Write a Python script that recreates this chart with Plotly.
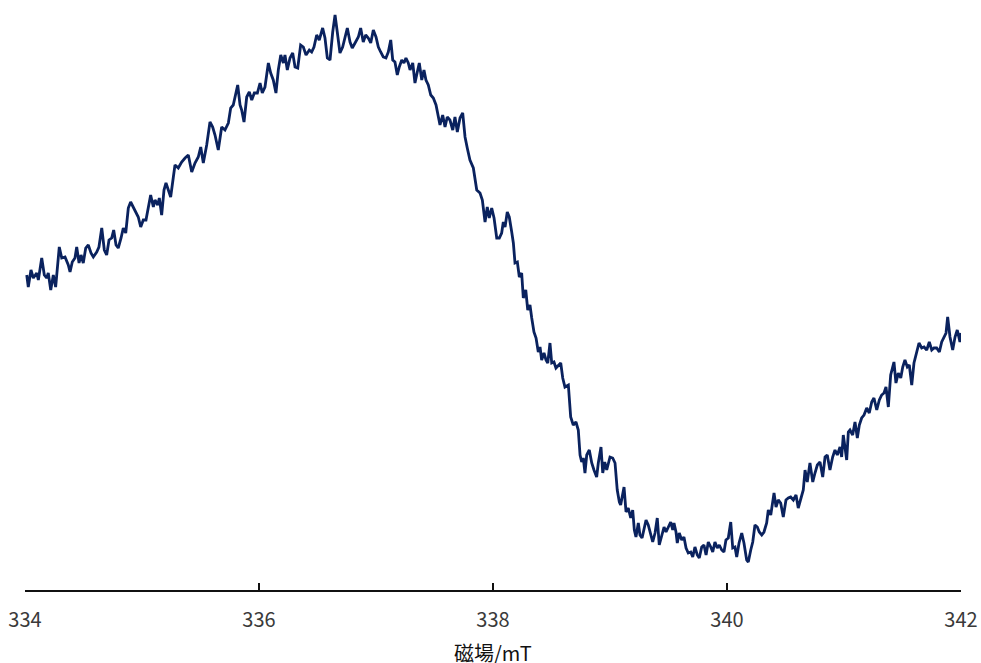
import plotly.graph_objects as go

# Magnetic field (mT)
field_mT = [
    334.015, 334.028, 334.051, 334.071, 334.100, 334.114, 334.143, 334.165, 334.185, 334.199,
    334.220, 334.242, 334.262, 334.293, 334.314, 334.342, 334.370, 334.385, 334.404, 334.427,
    334.442, 334.462, 334.479, 334.498, 334.519, 334.541, 334.564, 334.584, 334.613, 334.632,
    334.656, 334.678, 334.698, 334.718, 334.741, 334.758, 334.778, 334.797, 334.821, 334.840,
    334.861, 334.883, 334.903, 334.926, 334.946, 334.968, 334.989, 335.011, 335.034, 335.054,
    335.074, 335.097, 335.111, 335.134, 335.148, 335.168, 335.188, 335.205, 335.225, 335.245,
    335.268, 335.282, 335.310, 335.339, 335.368, 335.396, 335.425, 335.453, 335.481, 335.502,
    335.524, 335.553, 335.581, 335.604, 335.624, 335.652, 335.681, 335.709, 335.738, 335.758,
    335.780, 335.801, 335.818, 335.838, 335.852, 335.872, 335.895, 335.917, 335.938, 335.960,
    335.986, 336.009, 336.028, 336.051, 336.080, 336.100, 336.122, 336.145, 336.165, 336.186,
    336.208, 336.222, 336.242, 336.265, 336.288, 336.308, 336.331, 336.356, 336.379, 336.402,
    336.430, 336.450, 336.470, 336.493, 336.515, 336.544, 336.564, 336.584, 336.607, 336.630,
    336.650, 336.669, 336.692, 336.715, 336.735, 336.755, 336.778, 336.797, 336.821, 336.849,
    336.869, 336.891, 336.912, 336.934, 336.955, 336.977, 337.000, 337.020, 337.040, 337.062,
    337.085, 337.105, 337.126, 337.143, 337.162, 337.182, 337.199, 337.220, 337.239, 337.256,
    337.276, 337.291, 337.314, 337.333, 337.353, 337.370, 337.391, 337.410, 337.427, 337.447,
    337.468, 337.490, 337.513, 337.532, 337.547, 337.570, 337.590, 337.609, 337.632, 337.656,
    337.675, 337.695, 337.718, 337.741, 337.761, 337.780, 337.803, 337.832, 337.861, 337.889,
    337.909, 337.932, 337.951, 337.968, 337.989, 338.009, 338.032, 338.054, 338.074, 338.088,
    338.103, 338.122, 338.139, 338.160, 338.174, 338.188, 338.208, 338.225, 338.245, 338.259,
    338.280, 338.297, 338.316, 338.331, 338.350, 338.368, 338.387, 338.402, 338.416, 338.436,
    338.453, 338.468, 338.487, 338.502, 338.521, 338.538, 338.558, 338.579, 338.596, 338.615,
    338.644, 338.664, 338.686, 338.709, 338.729, 338.744, 338.758, 338.772, 338.786, 338.801,
    338.823, 338.844, 338.863, 338.886, 338.900, 338.923, 338.938, 338.955, 338.972, 338.986,
    339.000, 339.023, 339.043, 339.062, 339.080, 339.091, 339.109, 339.120, 339.137, 339.156,
    339.177, 339.194, 339.208, 339.222, 339.242, 339.256, 339.274, 339.291, 339.308, 339.327,
    339.348, 339.365, 339.385, 339.404, 339.421, 339.442, 339.462, 339.479, 339.498, 339.519,
    339.536, 339.547, 339.564, 339.575, 339.592, 339.613, 339.632, 339.650, 339.669, 339.690,
    339.707, 339.726, 339.746, 339.763, 339.784, 339.803, 339.821, 339.840, 339.861, 339.878,
    339.897, 339.917, 339.934, 339.955, 339.974, 339.991, 340.011, 340.032, 340.049, 340.068,
    340.083, 340.103, 340.126, 340.145, 340.168, 340.182, 340.203, 340.220, 340.239, 340.259,
    340.276, 340.297, 340.316, 340.339, 340.353, 340.374, 340.402, 340.419, 340.438, 340.459,
    340.481, 340.504, 340.524, 340.544, 340.567, 340.590, 340.609, 340.630, 340.652, 340.667,
    340.686, 340.709, 340.733, 340.752, 340.772, 340.795, 340.818, 340.838, 340.857, 340.880,
    340.903, 340.923, 340.943, 340.966, 340.980, 340.994, 341.009, 341.023, 341.037, 341.051,
    341.074, 341.094, 341.114, 341.131, 341.151, 341.171, 341.194, 341.216, 341.237, 341.256,
    341.280, 341.302, 341.322, 341.342, 341.359, 341.379, 341.399, 341.416, 341.427, 341.444,
    341.464, 341.485, 341.502, 341.521, 341.541, 341.558, 341.579, 341.598, 341.621, 341.641,
    341.664, 341.684, 341.707, 341.729, 341.750, 341.769, 341.792, 341.815, 341.835, 341.855,
    341.872, 341.886, 341.906, 341.929, 341.949, 341.968, 341.991, 342.000,
]

# EPR derivative signal (arbitrary units)
signal = [
    25, 13, 30, 22, 27, 20, 42, 25, 22, 27,
    10, 25, 13, 53, 42, 43, 35, 28, 38, 42,
    53, 37, 45, 37, 52, 55, 47, 43, 48, 53,
    72, 50, 45, 60, 62, 70, 55, 52, 62, 72,
    67, 92, 98, 93, 88, 83, 73, 80, 80, 92,
    105, 93, 100, 95, 102, 85, 110, 117, 110, 103,
    123, 135, 132, 138, 142, 145, 128, 137, 143, 153,
    137, 155, 178, 173, 165, 150, 173, 170, 177, 192,
    195, 205, 215, 195, 190, 178, 203, 208, 200, 207,
    207, 217, 207, 213, 237, 227, 220, 207, 230, 245,
    237, 245, 230, 242, 247, 233, 232, 255, 253, 245,
    250, 248, 253, 265, 260, 272, 262, 242, 240, 268,
    285, 268, 247, 253, 263, 272, 258, 252, 257, 263,
    272, 258, 265, 262, 257, 270, 263, 253, 248, 243,
    242, 248, 260, 240, 238, 225, 233, 240, 237, 242,
    237, 230, 237, 217, 228, 237, 220, 230, 220, 215,
    205, 202, 195, 185, 175, 185, 173, 183, 180, 170,
    183, 168, 182, 187, 163, 152, 140, 132, 110, 107,
    100, 78, 93, 82, 92, 82, 62, 62, 67, 78,
    73, 88, 83, 68, 57, 37, 38, 23, 27, 2,
    10, -10, -5, -18, -32, -38, -52, -47, -60, -53,
    -60, -63, -43, -63, -62, -68, -65, -63, -78, -87,
    -85, -117, -125, -122, -130, -155, -162, -158, -173, -155,
    -150, -163, -170, -177, -163, -147, -173, -162, -170, -163,
    -157, -158, -163, -190, -202, -205, -195, -187, -212, -208,
    -218, -210, -230, -237, -223, -235, -238, -228, -220, -225,
    -235, -242, -233, -218, -245, -235, -227, -232, -227, -222,
    -230, -223, -232, -243, -233, -240, -237, -248, -253, -252,
    -257, -247, -255, -258, -247, -245, -255, -242, -247, -252,
    -242, -248, -245, -250, -252, -240, -238, -222, -248, -247,
    -257, -243, -233, -243, -260, -262, -250, -242, -225, -227,
    -232, -235, -232, -223, -210, -215, -193, -207, -200, -203,
    -217, -200, -198, -197, -200, -195, -208, -198, -190, -170,
    -182, -163, -182, -173, -165, -162, -177, -157, -155, -170,
    -157, -150, -155, -147, -157, -135, -147, -160, -132, -130,
    -135, -122, -138, -125, -118, -115, -108, -113, -102, -98,
    -110, -100, -95, -93, -87, -107, -75, -68, -62, -83,
    -73, -78, -67, -60, -67, -65, -85, -63, -53, -43,
    -48, -47, -50, -42, -50, -48, -48, -52, -42, -37,
    -33, -17, -37, -50, -37, -30, -42, -33,
]

tick_vals = [334, 336, 338, 340, 342]
tick_text = ["334", "336", "338", "340", "342"]
x_title = "磁場/mT"

fig = go.Figure()
fig.add_trace(go.Scatter(
    x=field_mT, y=signal, mode="lines",
    line=dict(color="#0a225e", width=2.8),
    showlegend=False, hoverinfo="skip",
))

font_family = "Noto Sans CJK JP, Noto Sans, sans-serif"

fig.update_layout(
    width=981, height=663,
    margin=dict(l=25, r=20, t=10, b=73, autoexpand=False),
    paper_bgcolor="white", plot_bgcolor="white",
    font=dict(family=font_family, size=20, color="#222222"),
    hovermode=False,
    xaxis=dict(
        range=[334, 342], automargin=False,
        tickmode="array", tickvals=tick_vals, ticktext=tick_text,
        ticks="inside", ticklen=7, tickwidth=1.5, tickcolor="#111111",
        ticklabelstandoff=11, ticklabeloverflow="allow",
        showline=True, linecolor="#111111", linewidth=1.5,
        showgrid=False, zeroline=False,
        tickfont=dict(family=font_family, size=20, color="#3a3a3a"),
    ),
    yaxis=dict(
        range=[-290, 290], visible=False, showgrid=False, zeroline=False,
        automargin=False,
    ),
    annotations=[dict(
        text=x_title, xref="paper", yref="paper", x=0.5, y=-0.1086,
        xanchor="center", yanchor="middle", showarrow=False,
        font=dict(family=font_family, size=20, color="#111111"),
    )],
)

# Remove the default page margin so the 981x663 figure fills the window exactly.
fig.write_html(
    "out.html",
    config={"displayModeBar": False, "staticPlot": True},
    post_script="document.body.style.margin='0';document.body.style.overflow='hidden';",
)
